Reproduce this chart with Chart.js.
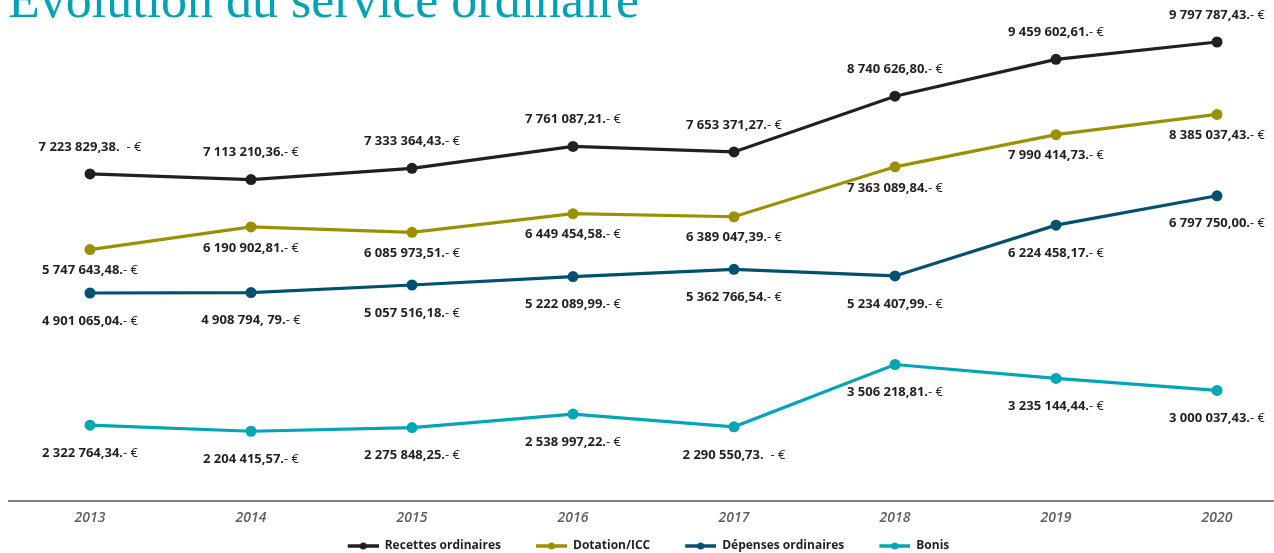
<!DOCTYPE html>
<html>
<head>
<meta charset="utf-8">
<script src="https://cdn.jsdelivr.net/npm/chart.js@4.4.1/dist/chart.umd.min.js"></script>
<style>
  html, body { margin: 0; padding: 0; background: #ffffff; }
  #wrap { position: relative; width: 1274px; height: 553px; overflow: hidden; }
</style>
</head>
<body>
<div id="wrap"><canvas id="c" width="1274" height="553"></canvas></div>
<script>
// ---- Data ----
const title = "Évolution du service ordinaire";
const years = ["2013", "2014", "2015", "2016", "2017", "2018", "2019", "2020"];
const seriesNames = ["Recettes ordinaires", "Dotation/ICC", "Dépenses ordinaires", "Bonis"];

const recettes = [7223829.38, 7113210.36, 7333364.43, 7761087.21, 7653371.27, 8740626.80, 9459602.61, 9797787.43];
const dotation = [5747643.48, 6190902.81, 6085973.51, 6449454.58, 6389047.39, 7363089.84, 7990414.73, 8385037.43];
const depenses = [4901065.04, 4908794.79, 5057516.18, 5222089.99, 5362766.54, 5234407.99, 6224458.17, 6797750.00];
const bonis    = [2322764.34, 2204415.57, 2275848.25, 2538997.22, 2290550.73, 3506218.81, 3235144.44, 3000037.43];

const recettesLabels = ["7 223 829,38.  - €", "7 113 210,36.- €", "7 333 364,43.- €", "7 761 087,21.- €", "7 653 371,27.- €", "8 740 626,80.- €", "9 459 602,61.- €", "9 797 787,43.- €"];
const dotationLabels = ["5 747 643,48.- €", "6 190 902,81.- €", "6 085 973,51.- €", "6 449 454,58.- €", "6 389 047,39.- €", "7 363 089,84.- €", "7 990 414,73.- €", "8 385 037,43.- €"];
const depensesLabels = ["4 901 065,04.- €", "4 908 794, 79.- €", "5 057 516,18.- €", "5 222 089,99.- €", "5 362 766,54.- €", "5 234 407,99.- €", "6 224 458,17.- €", "6 797 750,00.- €"];
const bonisLabels    = ["2 322 764,34.- €", "2 204 415,57.- €", "2 275 848,25.- €", "2 538 997,22.- €", "2 290 550,73.  - €", "3 506 218,81.- €", "3 235 144,44.- €", "3 000 037,43.- €"];

// ---- Styles ----
const colors = ["#231f20", "#9c9000", "#00506f", "#00a5b6"];
const labelOffsets = [-27, 21, 28, 28];
const yMin = 863000, yMax = 10032000;

function legendMarker(color) {
  const c = document.createElement('canvas');
  c.width = 54; c.height = 10;
  const g = c.getContext('2d');
  g.strokeStyle = color; g.lineWidth = 3.5;
  g.beginPath(); g.moveTo(23, 5); g.lineTo(54, 5); g.stroke();
  g.fillStyle = color;
  g.beginPath(); g.arc(38.5, 5, 3.5, 0, Math.PI * 2); g.fill();
  return c;
}

const allValues = [recettes, dotation, depenses, bonis];
const allLabels = [recettesLabels, dotationLabels, depensesLabels, bonisLabels];

const datasets = allValues.map((vals, i) => ({
  label: seriesNames[i],
  data: vals,
  borderColor: colors[i],
  backgroundColor: colors[i],
  pointBackgroundColor: colors[i],
  pointBorderWidth: 0,
  pointRadius: 5.5,
  borderWidth: 3.2,
  tension: 0,
  clip: false,
  valueLabels: allLabels[i],
  labelOffset: labelOffsets[i]
}));

const legendHeightPlugin = {
  id: 'legendHeight',
  beforeLayout(chart) {
    const lg = chart.legend;
    if (lg && !lg._fixedFit) {
      const orig = lg.fit.bind(lg);
      lg.fit = function () { orig(); this.height = 24; };
      lg._fixedFit = true;
    }
  }
};

const titlePlugin = {
  id: 'topTitle',
  afterDraw(chart) {
    const ctx = chart.ctx;
    ctx.save();
    ctx.font = '52px "Liberation Serif", "Times New Roman", serif';
    ctx.fillStyle = '#00a2b4';
    ctx.textAlign = 'left';
    ctx.textBaseline = 'alphabetic';
    ctx.fillText(title, 8, 17);
    ctx.restore();
  }
};

const axisLinePlugin = {
  id: 'axisLine',
  beforeDatasetsDraw(chart) {
    const ctx = chart.ctx;
    const y = chart.chartArea.bottom + 1;
    ctx.save();
    ctx.strokeStyle = '#7f7f7f';
    ctx.lineWidth = 2;
    ctx.beginPath();
    ctx.moveTo(8, y);
    ctx.lineTo(chart.width, y);
    ctx.stroke();
    ctx.restore();
  }
};

const valueLabelPlugin = {
  id: 'valueLabels',
  afterDatasetsDraw(chart) {
    const ctx = chart.ctx;
    const boldFont = 'bold 13px "Open Sans", "Noto Sans", sans-serif';
    const regFont = '13px "Open Sans", "Noto Sans", sans-serif';
    ctx.save();
    ctx.textBaseline = 'middle';
    ctx.textAlign = 'left';
    ctx.fillStyle = '#231f20';
    chart.data.datasets.forEach((ds, di) => {
      const meta = chart.getDatasetMeta(di);
      meta.data.forEach((pt, i) => {
        const s = ds.valueLabels[i];
        const k = s.lastIndexOf('-');
        const a = s.slice(0, k), b = s.slice(k);
        ctx.font = boldFont; const wa = ctx.measureText(a).width;
        ctx.font = regFont; const wb = ctx.measureText(b).width;
        const x0 = pt.x - (wa + wb) / 2;
        const y = pt.y + ds.labelOffset;
        ctx.font = boldFont; ctx.fillText(a, x0, y);
        ctx.font = regFont; ctx.fillText(b, x0 + wa, y);
      });
    });
    ctx.restore();
  }
};

new Chart(document.getElementById('c'), {
  type: 'line',
  data: { labels: years, datasets },
  options: {
    responsive: false,
    animation: false,
    devicePixelRatio: 1,
    layout: { padding: { top: 30, bottom: 1, left: 0, right: 0 } },
    scales: {
      x: {
        offset: false,
        grid: { display: false, drawTicks: false },
        border: { display: false },
        ticks: {
          padding: 10,
          color: '#5e5e60',
          font: { family: '"Open Sans", "Noto Sans", sans-serif', size: 14, style: 'italic', weight: '600' },
          maxRotation: 0
        },
        afterFit(s) { s.height = 28; }
      },
      y: {
        position: 'left',
        min: yMin, max: yMax,
        grid: { display: false },
        border: { display: false },
        ticks: { display: false },
        afterFit(s) { s.width = 90; }
      },
      y2: {
        position: 'right',
        min: yMin, max: yMax,
        grid: { display: false },
        border: { display: false },
        ticks: { display: false },
        afterFit(s) { s.width = 57; }
      }
    },
    plugins: {
      tooltip: { enabled: false },
      legend: {
        position: 'bottom',
        labels: {
          usePointStyle: true,
          pointStyleWidth: 54,
          padding: 12,
          color: '#231f20',
          font: { family: '"Open Sans", "Noto Sans", sans-serif', size: 12, weight: 'bold' },
          generateLabels(chart) {
            return chart.data.datasets.map((ds, i) => ({
              text: ds.label,
              fillStyle: ds.borderColor,
              strokeStyle: ds.borderColor,
              lineWidth: 0,
              pointStyle: legendMarker(ds.borderColor),
              hidden: false,
              datasetIndex: i,
              fontColor: '#231f20'
            }));
          }
        }
      }
    }
  },
  plugins: [legendHeightPlugin, axisLinePlugin, valueLabelPlugin, titlePlugin]
});
</script>
</body>
</html>
